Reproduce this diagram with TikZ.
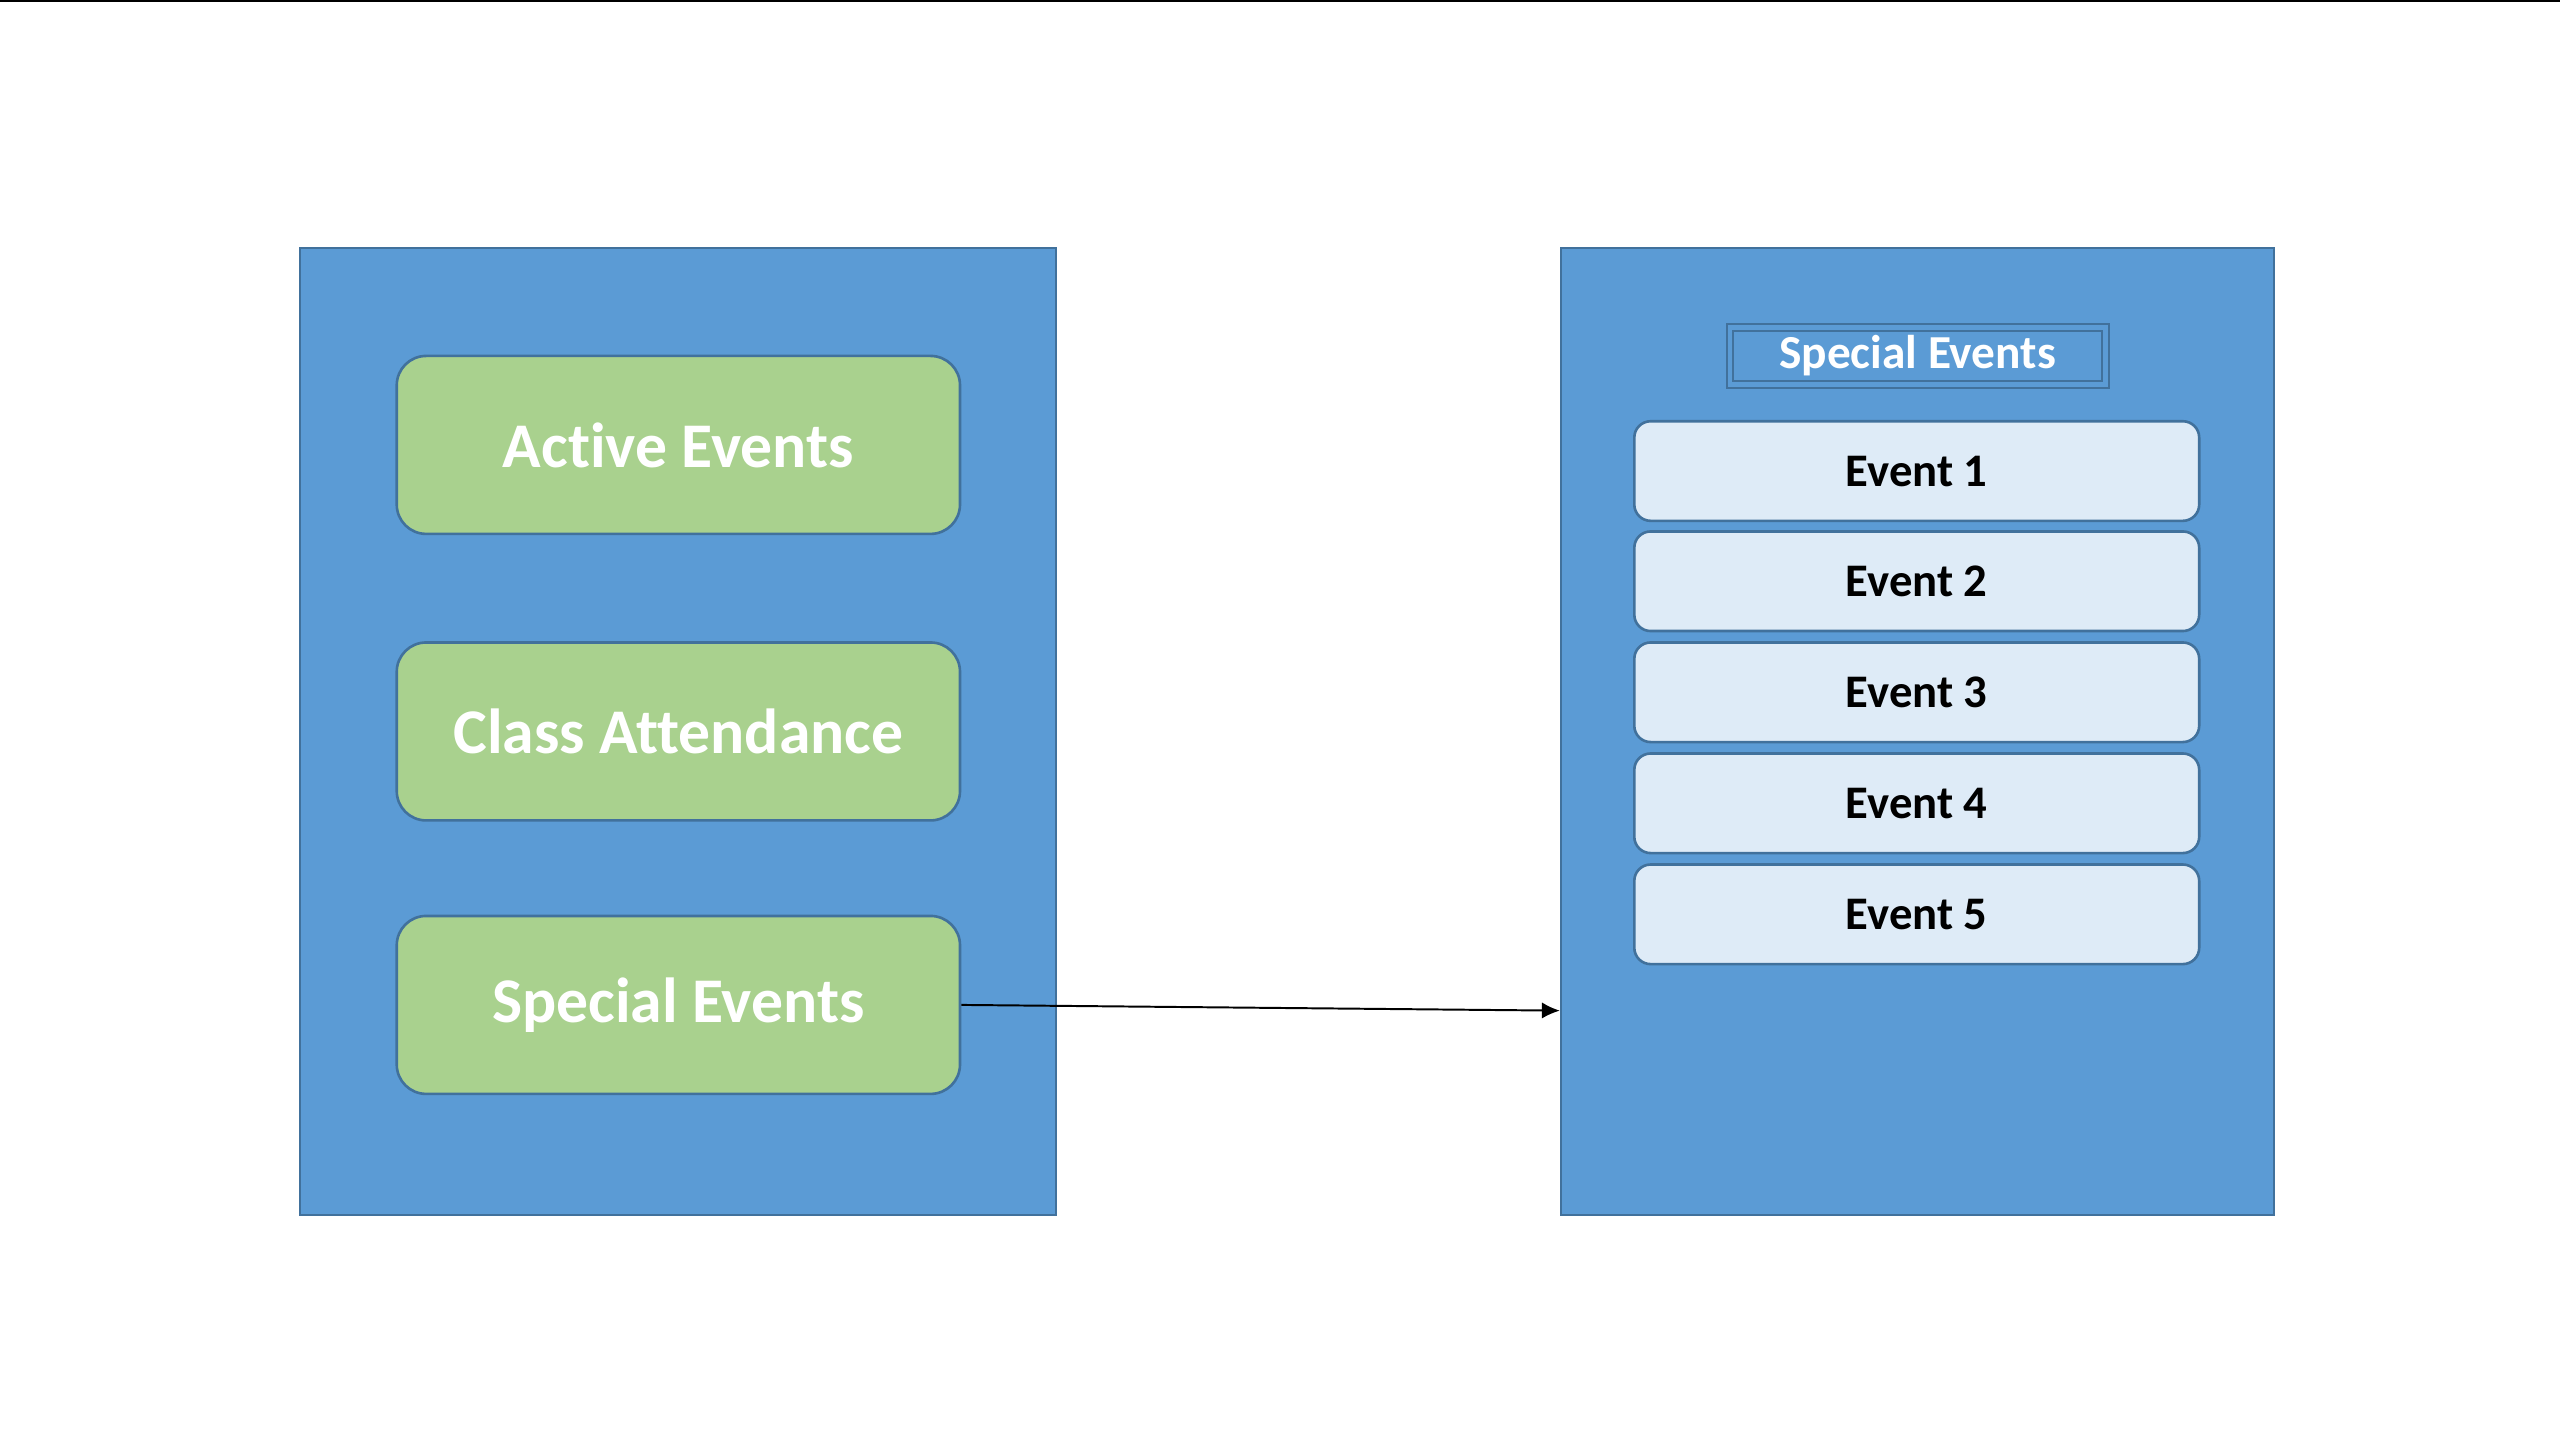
\documentclass[tikz,border=0pt]{standalone}
\usepackage{fontspec}
\setmainfont{Carlito}[Ligatures={NoCommon,NoContextual}]
\usetikzlibrary{arrows.meta}

\definecolor{panelblue}{HTML}{5B9BD5}
\definecolor{edgeblue}{HTML}{41719C}
\definecolor{menugreen}{HTML}{A9D18E}
\definecolor{itemblue}{HTML}{DEEBF7}

\tikzset{
  panel/.style={draw=edgeblue, fill=panelblue, line width=0.6pt, inner sep=0pt,
    minimum height=296pt},
  menubox/.style={draw=edgeblue, fill=menugreen, line width=0.8pt, rounded corners=9pt,
    inner sep=0pt, minimum width=172.5pt, minimum height=54.5pt, text=white,
    font=\bfseries\fontsize{19.5}{23}\selectfont},
  titlebox/.style={draw=edgeblue, double=panelblue, double distance=1.4pt, line width=0.6pt,
    fill=panelblue, inner sep=0pt, minimum width=115pt, minimum height=17.5pt, text=white,
    font=\bfseries\fontsize{14.5}{17}\selectfont},
  eventbox/.style={draw=edgeblue, fill=itemblue, line width=0.8pt, rounded corners=5pt,
    inner sep=0pt, minimum width=173pt, minimum height=30.5pt, text=black,
    font=\bfseries\fontsize{14.3}{17}\selectfont},
  link/.style={-{Latex[length=5.5pt,width=5pt]}, line width=0.6pt, black}
}

\begin{document}
\begin{tikzpicture}[x=0.5pt,y=-0.5pt]
\useasboundingbox (0,0) rectangle (1568,880);
\fill[white] (0,0) rectangle (1568,880);
\draw[line width=0.7pt] (0,0.6) -- (1568,0.6);

% menu side
\node[panel, minimum width=231.5pt] (lpanel) at (415.5,448) {};
\node[menubox] (active) at (415.5,272.5) {Active Events};
\node[menubox] (class) at (415.5,448) {Class Attendance};
\node[menubox] (spec) at (415.5,615.5) {Special Events};

% special events page
\node[panel, minimum width=218.5pt] (rpanel) at (1174.5,448) {};
\node[titlebox] (title) at (1174.5,218) {\raisebox{-1pt}{Special Events}};
\foreach \i/\y in {1/288.5,2/356,3/424,4/492,5/560}
  \node[eventbox] (ev\i) at (1174,\y) {Event \i};

\coordinate (tip) at (rpanel.west |- 0,619);
\draw[link] (spec.east) -- (tip);
\end{tikzpicture}
\end{document}
